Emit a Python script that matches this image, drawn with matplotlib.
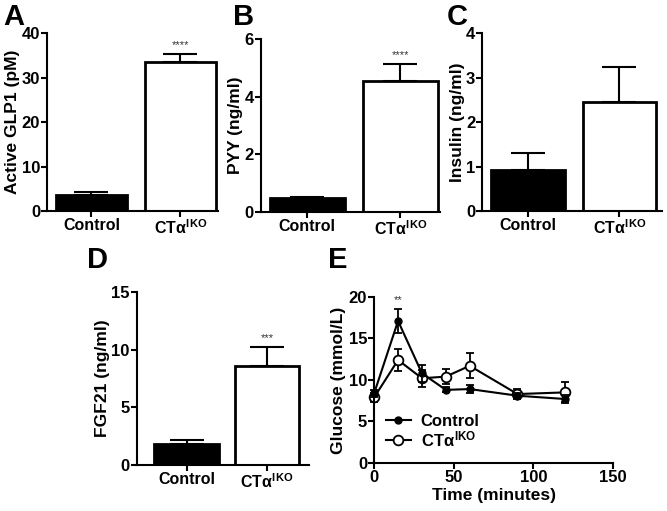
import matplotlib
matplotlib.use('Agg')
import matplotlib.pyplot as plt
from matplotlib.lines import Line2D

plt.rcParams['font.family'] = ['Liberation Sans', 'DejaVu Sans']
plt.rcParams['font.weight'] = 'bold'
plt.rcParams['mathtext.fontset'] = 'custom'
plt.rcParams['mathtext.rm'] = 'Liberation Sans:bold'
plt.rcParams['mathtext.it'] = 'Liberation Sans:bold'
plt.rcParams['mathtext.bf'] = 'Liberation Sans:bold'

KO = r'CT$\alpha^{\rm IKO}$'
groups = ['Control', KO]

# bar panels: mean and SEM (Control, CTa-IKO)
glp1_mean = [3.7, 33.5]
glp1_sem = [0.6, 1.8]
pyy_mean = [0.47, 4.55]
pyy_sem = [0.05, 0.58]
insulin_mean = [0.93, 2.45]
insulin_sem = [0.38, 0.78]
fgf21_mean = [1.85, 8.6]
fgf21_sem = [0.35, 1.65]

# glucose time course
time_min = [0, 15, 30, 45, 60, 90, 120]
ctrl_glu = [8.4, 17.1, 10.8, 8.8, 8.9, 8.1, 7.7]
ctrl_sem = [0.4, 1.5, 1.0, 0.3, 0.5, 0.3, 0.5]
ko_glu = [7.9, 12.4, 10.2, 10.4, 11.7, 8.3, 8.5]
ko_sem = [0.5, 1.3, 1.0, 0.9, 1.5, 0.6, 1.2]

fig = plt.figure(figsize=(6.67, 5.11), dpi=100)


def style(ax):
    for s in ['top', 'right']:
        ax.spines[s].set_visible(False)
    for s in ['left', 'bottom']:
        ax.spines[s].set_linewidth(1.5)
    ax.tick_params(width=1.5, length=4, pad=1)
    ax.tick_params(axis='y', labelsize=12)
    ax.tick_params(axis='x', labelsize=11.5)
    for t in ax.get_xticklabels() + ax.get_yticklabels():
        t.set_fontweight('bold')


def bar_panel(rect, mean, sem, ylim, yticks, ylabel, stars, xlim=(-0.5, 1.42)):
    ax = fig.add_axes(rect)
    x = [0, 1]
    ax.bar(x, mean, width=0.8, color=['black', 'white'], edgecolor='black', linewidth=2, zorder=2)
    ax.errorbar(x, mean, yerr=[[0, 0], sem], fmt='none', ecolor='black',
                elinewidth=1.5, capsize=12, capthick=1.5, zorder=1)
    ax.set_xlim(*xlim)
    ax.set_ylim(*ylim)
    ax.set_yticks(yticks)
    ax.set_xticks(x)
    ax.set_xticklabels(groups)
    ax.set_ylabel(ylabel, fontsize=12.5, fontweight='bold', labelpad=1)
    style(ax)
    if stars:
        ax.text(1, mean[1] + sem[1] + ylim[1] * 0.02, stars, ha='center', va='bottom',
                fontsize=8, fontweight='normal', color='#333333')
    return ax


bar_panel([0.0705, 0.587, 0.256, 0.348], glp1_mean, glp1_sem, (0, 40), [0, 10, 20, 30, 40],
          'Active GLP1 (pM)', '****')
bar_panel([0.391, 0.585, 0.268, 0.339], pyy_mean, pyy_sem, (0, 6), [0, 2, 4, 6],
          'PYY (ng/ml)', '****')
bar_panel([0.723, 0.587, 0.27, 0.348], insulin_mean, insulin_sem, (0, 4), [0, 1, 2, 3, 4],
          'Insulin (ng/ml)', None, xlim=(-0.5, 1.47))
bar_panel([0.205, 0.090, 0.259, 0.339], fgf21_mean, fgf21_sem, (0, 15), [0, 5, 10, 15],
          'FGF21 (ng/ml)', '***', xlim=(-0.62, 1.53))

# panel E
ax = fig.add_axes([0.561, 0.094, 0.358, 0.325])
ax.errorbar(time_min, ctrl_glu, yerr=ctrl_sem, color='black', marker='o', markersize=5,
            linewidth=1.5, elinewidth=1.3, capsize=3, capthick=1.3, zorder=3, clip_on=False)
ax.errorbar(time_min, ko_glu, yerr=ko_sem, color='black', marker='o', markersize=7,
            markerfacecolor='white', markeredgewidth=1.3, linewidth=1.5, elinewidth=1.3,
            capsize=3, capthick=1.3, zorder=2, clip_on=False)
ax.text(15, 19.0, '**', ha='center', va='bottom', fontsize=8, fontweight='normal', color='#333333')
ax.set_xlim(0, 150)
ax.set_ylim(0, 20)
ax.set_xticks([0, 50, 100, 150])
ax.set_yticks([0, 5, 10, 15, 20])
ax.set_xlabel('Time (minutes)', fontsize=12.5, fontweight='bold', labelpad=2)
ax.set_ylabel('Glucose (mmol/L)', fontsize=12.5, fontweight='bold', labelpad=2)
style(ax)
ax.tick_params(axis='x', labelsize=12)
handles = [Line2D([], [], color='black', marker='o', markersize=5, linewidth=1.5),
           Line2D([], [], color='black', marker='o', markersize=7, markerfacecolor='white',
                  markeredgewidth=1.3, linewidth=1.5)]
ax.legend(handles, ['Control', KO], loc='center left', bbox_to_anchor=(0.0, 0.19),
          frameon=False, fontsize=12, handlelength=1.5, handletextpad=0.6,
          labelspacing=0.05, borderaxespad=0.3)

# panel letters
for letter, (lx, ly) in zip('ABCDE', [(3, 25), (233, 25), (447, 25), (87, 268), (328, 268)]):
    fig.text(lx / 667, 1 - ly / 511, letter, fontsize=21, fontweight='bold', ha='left',
             va='baseline')

fig.savefig('out.png', dpi=100)
